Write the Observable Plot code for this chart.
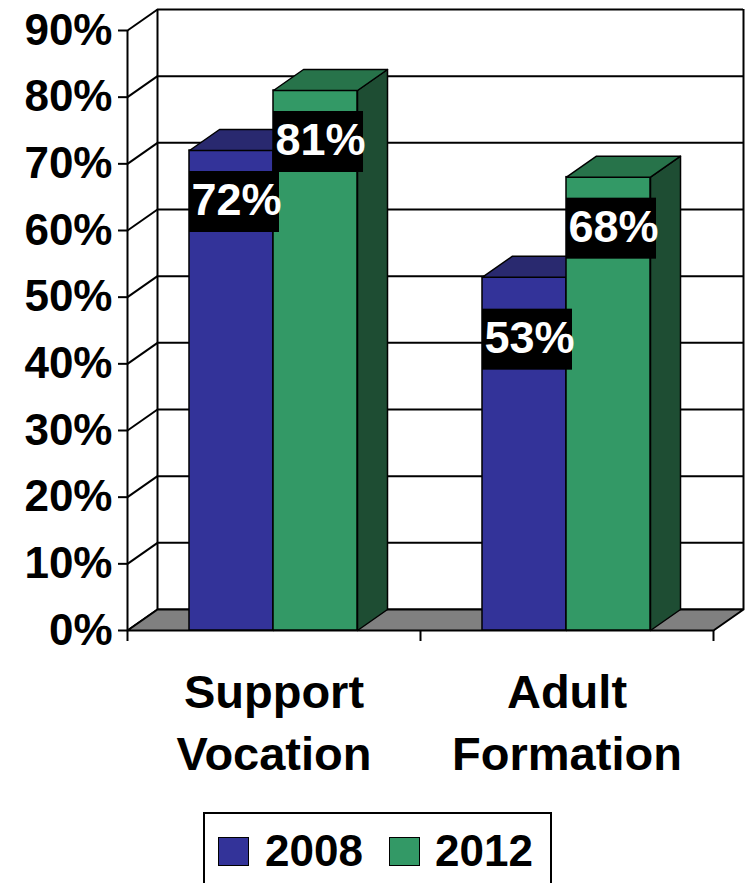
<!DOCTYPE html>
<html>
<head>
<meta charset="utf-8">
<script src="https://cdn.jsdelivr.net/npm/d3@7"></script>
<script src="https://cdn.jsdelivr.net/npm/@observablehq/plot@0.6"></script>
<style>
  html, body { margin: 0; padding: 0; background: #fff; }
  body { position: relative; width: 747px; height: 883px; overflow: hidden; font-family: "Liberation Sans", Arial, sans-serif; }
  #chart svg { display: block; }
  .legend { position: absolute; left: 203px; top: 812px; width: 349px; height: 90px; box-sizing: border-box; border: 2px solid #000; }
  .sw { position: absolute; width: 31px; height: 29px; box-sizing: border-box; border: 1.5px solid #000; top: 23px; }
  .lt { position: absolute; font-size: 44px; font-weight: bold; line-height: 44px; top: 15px; color: #000; }
</style>
</head>
<body>
<div id="chart"></div>
<div class="legend" id="legend"></div>
<script>
// ---- data ----
const categories = ["Support Vocation", "Adult Formation"];
const categoryLines = [["Support", "Vocation"], ["Adult", "Formation"]];
const series = ["2008", "2012"];
const values2008 = [72, 53];
const values2012 = [81, 68];
const yTicks = [0, 10, 20, 30, 40, 50, 60, 70, 80, 90];
const yTickLabels = ["0%", "10%", "20%", "30%", "40%", "50%", "60%", "70%", "80%", "90%"];

// ---- style / layout ----
const colors = {
  "2008": {front: "#333399", top: "#29296f", side: "#1f1f5c"},
  "2012": {front: "#339966", top: "#27734a", side: "#1e4d33"}
};
const groupPad = 0.2116;   // offset of bar group inside a category slot
const barW = 0.2867;       // bar width in category units
const dX = 0.1024;         // depth (x units)
const dY = 3.15;           // depth (y units)
const yMax = 90;
const labelNudge = {"Adult Formation|2008": 11};

const seriesValues = {"2008": values2008, "2012": values2012};
const bars = [];
categories.forEach((c, i) => {
  series.forEach((s, k) => {
    const left = i + groupPad + k * barW;
    bars.push({cat: c, ser: s, i, k, left, right: left + barW, value: seriesValues[s][i]});
  });
});

function polys(kind, ser) {
  const out = [];
  bars.filter(b => b.ser === ser).forEach((b, n) => {
    const id = kind + ser + n;
    let pts;
    if (kind === "top") {
      pts = [[b.left, b.value], [b.right, b.value], [b.right + dX, b.value + dY], [b.left + dX, b.value + dY], [b.left, b.value]];
    } else {
      pts = [[b.right, 0], [b.right, b.value], [b.right + dX, b.value + dY], [b.right + dX, dY], [b.right, 0]];
    }
    pts.forEach(p => out.push({id, x: p[0], y: p[1]}));
  });
  return out;
}

const floorPts = [[0, 0], [categories.length, 0], [categories.length + dX, dY], [dX, dY], [0, 0]].map(p => ({id: "floor", x: p[0], y: p[1]}));

const font = "Liberation Sans, Arial, sans-serif";
const marks = [];
// back wall gridlines
marks.push(Plot.ruleY(yTicks, {y: d => d + dY, x1: dX, x2: categories.length + dX, stroke: "#000", strokeWidth: 2}));
// left wall diagonals
marks.push(Plot.link(yTicks, {x1: 0, y1: d => d, x2: dX, y2: d => d + dY, stroke: "#000", strokeWidth: 2}));
// back wall verticals
marks.push(Plot.ruleX([dX, categories.length + dX], {y1: dY, y2: yMax + dY, stroke: "#000", strokeWidth: 2}));
// floor
marks.push(Plot.line(floorPts, {x: "x", y: "y", z: "id", fill: "#808080", stroke: "#000", strokeWidth: 2}));
// front y axis
marks.push(Plot.ruleX([0], {y1: 0, y2: yMax, stroke: "#000", strokeWidth: 2}));
marks.push(Plot.axisY({ticks: yTicks, tickFormat: d => yTickLabels[yTicks.indexOf(d)], tickSize: 9, tickPadding: 6,
  fontSize: 44, fontWeight: "bold", stroke: "#000", strokeWidth: 2, fill: "#000"}));
marks.push(Plot.axisX({ticks: [0, 1, 2], tickFormat: () => "", tickSize: 11, stroke: "#000", strokeWidth: 2}));
// bars
series.forEach(s => {
  marks.push(Plot.line(polys("side", s), {x: "x", y: "y", z: "id", fill: colors[s].side, stroke: "#000", strokeWidth: 1.5}));
  marks.push(Plot.rect(bars.filter(b => b.ser === s), {x1: "left", x2: "right", y1: 0, y2: "value", fill: colors[s].front, stroke: "#000", strokeWidth: 1.5}));
  marks.push(Plot.line(polys("top", s), {x: "x", y: "y", z: "id", fill: colors[s].top, stroke: "#000", strokeWidth: 1.5}));
});
// data labels
const boxH = 61, boxTop = 21;
const normal = bars.filter(b => !labelNudge[b.cat + "|" + b.ser]);
const nudged = bars.filter(b => labelNudge[b.cat + "|" + b.ser]);
function labelMarks(data, extra) {
  return [
    Plot.rect(data, {x1: "left", x2: "right", y1: "value", y2: "value", insetTop: -boxH / 2, insetBottom: -boxH / 2,
      insetLeft: -1, insetRight: -5, dy: boxTop + boxH / 2 + extra, dx: 1, fill: "#000"}),
    Plot.text(data, {x: d => (d.left + d.right) / 2, y: "value", text: d => d.value + "%", dx: 5, dy: boxTop + boxH / 2 - 1 + extra,
      fill: "#fff", fontSize: 45, fontWeight: "bold", textAnchor: "middle", lineAnchor: "middle", fontFamily: font})
  ];
}
marks.push(...labelMarks(normal, 0));
if (nudged.length) marks.push(...labelMarks(nudged, 11));
// category labels
marks.push(Plot.text(categories, {x: (d, i) => i + 0.5, y: 0, text: (d, i) => categoryLines[i].join("\n"),
  dy: 33, lineAnchor: "top", lineHeight: 1.32, fontSize: 47, fontWeight: "bold", fill: "#000", textAnchor: "middle", fontFamily: font}));

const chart = Plot.plot({
  width: 747, height: 810,
  marginLeft: 127, marginRight: 34, marginTop: 30, marginBottom: 180,
  x: {type: "linear", domain: [0, categories.length], axis: null},
  y: {type: "linear", domain: [0, yMax], axis: null},
  style: {fontFamily: font, background: "#fff", color: "#000", overflow: "visible"},
  marks
});
document.getElementById("chart").appendChild(chart);

// legend
const legend = document.getElementById("legend");
const legendPos = [{sw: 13, tx: 60}, {sw: 184, tx: 230}];
series.forEach((s, k) => {
  const sw = document.createElement("div");
  sw.className = "sw"; sw.style.left = legendPos[k].sw + "px"; sw.style.background = colors[s].front;
  legend.appendChild(sw);
  const t = document.createElement("div");
  t.className = "lt"; t.style.left = legendPos[k].tx + "px"; t.textContent = s;
  legend.appendChild(t);
});
</script>
</body>
</html>
